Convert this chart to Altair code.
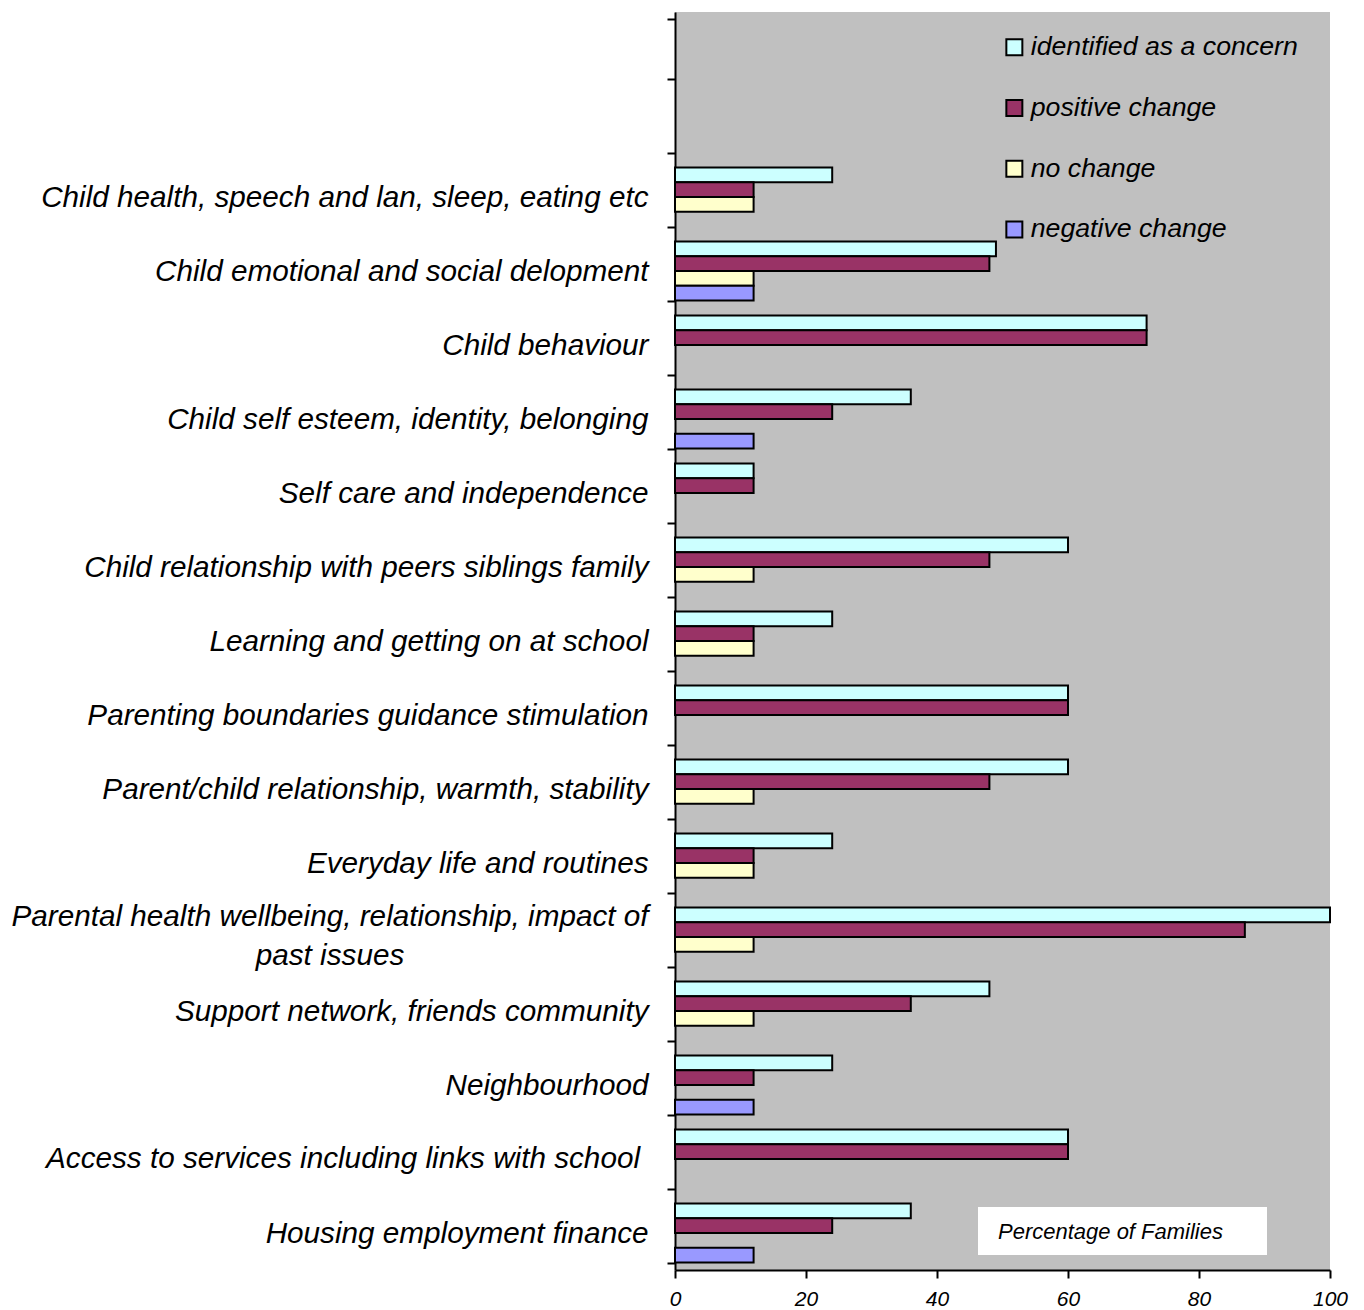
import altair as alt
import pandas as pd

# Outcome areas, top to bottom ("|" marks a line break in the label,
# a trailing hard space sets the label a little further from the axis)
categories = [
    "Child health, speech and lan, sleep, eating etc",
    "Child emotional and social delopment",
    "Child behaviour",
    "Child self esteem, identity, belonging",
    "Self care and independence",
    "Child relationship with peers siblings family",
    "Learning and getting on at school",
    "Parenting boundaries guidance stimulation",
    "Parent/child relationship, warmth, stability",
    "Everyday life and routines",
    "Parental health wellbeing, relationship, impact of|past issues",
    "Support network, friends community",
    "Neighbourhood",
    "Access to services including links with school\u00a0",
    "Housing employment finance",
]

series_names = ["identified as a concern", "positive change", "no change", "negative change"]
series_colors = ["#CCFFFF", "#993366", "#FFFFCC", "#9999FF"]

identified = [24, 49, 72, 36, 12, 60, 24, 60, 60, 24, 100, 48, 24, 60, 36]
positive = [12, 48, 72, 24, 12, 48, 12, 60, 48, 12, 87, 36, 12, 60, 24]
no_change = [12, 12, 0, 0, 0, 12, 12, 0, 12, 12, 12, 12, 0, 0, 0]
negative = [0, 12, 0, 12, 0, 0, 0, 0, 0, 0, 0, 0, 12, 0, 12]

# two empty rows at the top leave room for the legend
blank_rows = [" ", "  "]
y_domain = blank_rows + categories

rows = []
for name, values in zip(series_names, [identified, positive, no_change, negative]):
    for cat, v in zip(categories, values):
        if v > 0:
            rows.append({"category": cat, "series": name, "value": v})
df = pd.DataFrame(rows)

FONT = "Liberation Sans"
W, H = 655, 1258
LABEL_SIZE = 29.7

y_enc = alt.Y(
    "category:N",
    sort=y_domain,
    scale=alt.Scale(domain=y_domain, paddingInner=0.2, paddingOuter=0.1),
    axis=alt.Axis(
        title=None,
        grid=False,
        tickBand="extent",
        domainColor="black",
        domainWidth=2,
        tickColor="black",
        tickWidth=2,
        tickSize=8,
        labelFont=FONT,
        labelFontStyle="italic",
        labelFontSize=LABEL_SIZE,
        labelColor="black",
        labelLimit=1000,
        labelPadding=19,
        # wrapped and spaced labels are drawn by the text layers below
        labelExpr="indexof(datum.label, '|') >= 0 || indexof(datum.label, '\u00a0') >= 0 ? '' : datum.label",
    ),
)

bars = alt.Chart(df).mark_bar(stroke="black", strokeWidth=2).encode(
    x=alt.X(
        "value:Q",
        scale=alt.Scale(domain=[0, 100], nice=False),
        axis=alt.Axis(
            values=[0, 20, 40, 60, 80, 100],
            grid=False,
            title=None,
            domainColor="black",
            domainWidth=2,
            tickColor="black",
            tickWidth=2,
            tickSize=8,
            labelFont=FONT,
            labelFontStyle="italic",
            labelFontSize=21,
            labelColor="black",
            labelPadding=10,
            labelFlush=False,
        ),
    ),
    y=y_enc,
    yOffset=alt.YOffset(
        "series:N",
        sort=series_names,
        scale=alt.Scale(domain=series_names, paddingInner=0, paddingOuter=0),
    ),
    color=alt.Color(
        "series:N",
        sort=series_names,
        scale=alt.Scale(domain=series_names, range=series_colors),
        legend=alt.Legend(
            title=None,
            orient="none",
            legendX=326,
            legendY=22,
            symbolType="square",
            symbolSize=256,
            symbolStrokeColor="black",
            symbolStrokeWidth=2,
            labelFont=FONT,
            labelFontStyle="italic",
            labelFontSize=26.7,
            labelColor="black",
            labelOffset=3,
            rowPadding=32.7,
            labelLimit=500,
        ),
    ),
)

label_style = dict(font=FONT, fontStyle="italic", fontSize=LABEL_SIZE, color="black", baseline="middle")

wrapped_df = pd.DataFrame({"category": [c for c in categories if "|" in c]})
wrapped_labels = alt.Chart(wrapped_df).mark_text(
    align="center", lineBreak="|", lineHeight=39, dy=-20, **label_style
).encode(
    x=alt.value(-345),
    y=alt.Y("category:N", sort=y_domain),
    text="category:N",
)

spaced_df = pd.DataFrame({"category": [c for c in categories if c.endswith("\u00a0")]})
spaced_labels = alt.Chart(spaced_df).transform_calculate(
    label="trim(datum.category)"
).mark_text(align="right", **label_style).encode(
    x=alt.value(-35),
    y=alt.Y("category:N", sort=y_domain),
    text="label:N",
)

note_df = pd.DataFrame({"label": ["Percentage of Families"]})
note_box = alt.Chart(note_df).mark_rect(color="white").encode(
    x=alt.value(303), x2=alt.value(592), y=alt.value(1195), y2=alt.value(1243)
)
note_text = alt.Chart(note_df).mark_text(
    align="left", baseline="middle", font=FONT, fontStyle="italic", fontSize=22, color="black"
).encode(x=alt.value(323), y=alt.value(1220), text="label:N")

chart = (
    alt.layer(bars, wrapped_labels, spaced_labels, note_box, note_text)
    .properties(
        width=W,
        height=H,
        autosize=alt.AutoSizeParams(type="none"),
        padding={"left": 675, "top": 12, "right": 34, "bottom": 40},
        background="white",
    )
    .configure_view(fill="#C0C0C0", stroke=None)
)

chart.save("out.html", embed_options={"renderer": "svg", "actions": False})
